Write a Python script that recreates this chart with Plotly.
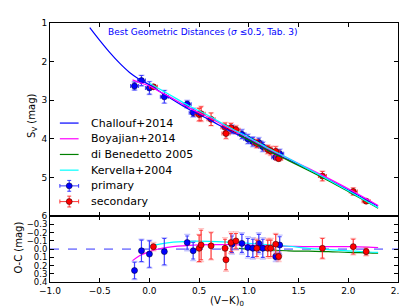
import plotly.graph_objects as go

# ---------------- data ----------------
prim_x = [-0.15, -0.08, 0.00, 0.15, 0.38, 0.44, 0.83, 0.93, 0.99, 1.04, 1.10, 1.14, 1.27, 1.31]
prim_s = [2.63, 2.49, 2.68, 2.91, 3.10, 3.32, 3.75, 3.88, 4.00, 4.07, 4.09, 4.20, 4.47, 4.38]
prim_oc = [0.26, 0.02, 0.06, 0.03, -0.08, 0.02, -0.06, -0.07, -0.02, -0.01, -0.07, -0.01, 0.09, -0.05]
prim_err = [0.10, 0.13, 0.16, 0.16, 0.08, 0.10, 0.10, 0.11, 0.11, 0.11, 0.11, 0.11, 0.04, 0.10]
prim_err_tot = [0.11, 0.14, 0.17, 0.17, 0.10, 0.12, 0.12, 0.13, 0.13, 0.13, 0.13, 0.13, 0.06, 0.12]
prim_xerr = [0.04] * len(prim_x)

sec_x = [0.04, 0.50, 0.52, 0.62, 0.76, 0.77, 0.82, 0.87, 1.08, 1.19, 1.22, 1.27, 1.30, 1.74, 2.05, 2.18]
sec_s = [2.65, 3.37, 3.35, 3.49, 3.70, 3.86, 3.71, 3.76, 4.12, 4.27, 4.31, 4.32, 4.51, 4.96, 5.36, 5.61]
sec_oc = [-0.03, -0.01, -0.05, -0.04, -0.01, 0.13, -0.08, -0.10, -0.01, -0.01, -0.01, -0.06, 0.09, -0.01, -0.03, 0.03]
sec_err = [0.03, 0.16, 0.18, 0.16, 0.11, 0.12, 0.11, 0.09, 0.10, 0.10, 0.10, 0.12, 0.04, 0.12, 0.09, 0.04]
sec_err_tot = [0.05, 0.17, 0.20, 0.17, 0.13, 0.14, 0.13, 0.11, 0.12, 0.12, 0.12, 0.13, 0.06, 0.13, 0.10, 0.05]
sec_xerr = [0.04] * len(sec_x)

# relations, main panel (S_V)
chal_x = [-0.6, -0.5, -0.4, -0.3, -0.2, -0.1, 0.0, 0.2, 0.4, 0.6, 0.8, 1.0, 1.2, 1.4, 1.6, 1.8, 2.0, 2.2, 2.3]
chal_s = [1.12, 1.45, 1.76, 2.04, 2.28, 2.46, 2.60, 2.93, 3.24, 3.50, 3.78, 4.03, 4.30, 4.54, 4.79, 5.05, 5.32, 5.60, 5.74]

boy_x = [-0.17, -0.1, 0.0, 0.1, 0.2, 0.4, 0.6, 0.8, 1.0, 1.2, 1.4, 1.6, 1.8, 2.0, 2.2, 2.3]
boy_s = [2.47, 2.54, 2.63, 2.77, 2.905, 3.195, 3.445, 3.725, 3.98, 4.26, 4.505, 4.76, 5.02, 5.29, 5.575, 5.72]
boy_oc = [0.14, 0.08, 0.03, -0.005, -0.025, -0.045, -0.055, -0.055, -0.05, -0.04, -0.035, -0.03, -0.03, -0.03, -0.025, -0.02]

ker_x = [0.0, 0.2, 0.4, 0.6, 0.8, 1.0, 1.2, 1.4, 1.6, 1.8, 2.0, 2.2, 2.3]
ker_s = [2.56, 2.85, 3.145, 3.405, 3.695, 3.96, 4.245, 4.505, 4.78, 5.055, 5.34, 5.635, 5.78]
ker_oc = [-0.04, -0.08, -0.095, -0.095, -0.085, -0.07, -0.055, -0.035, -0.01, 0.005, 0.02, 0.035, 0.04]

dib_x = [0.9, 1.0, 1.2, 1.4, 1.6, 1.8, 2.0, 2.2, 2.3]
dib_s = [3.89, 4.03, 4.31, 4.56, 4.815, 5.08, 5.36, 5.645, 5.79]
dib_oc = [-0.01, 0.0, 0.01, 0.02, 0.025, 0.03, 0.04, 0.045, 0.05]

zero_x = [-1.0, 2.5]
zero_y = [0.0, 0.0]

x_ticks = [-1.0, -0.5, 0.0, 0.5, 1.0, 1.5, 2.0, 2.5]
s_ticks = [1, 2, 3, 4, 5, 6]
oc_ticks = [-0.3, -0.2, -0.1, 0.0, 0.1, 0.2, 0.3, 0.4]
oc_labels = ["\u22120.3", "\u22120.2", "\u22120.1", "0.0", "0.1", "0.2", "0.3", "0.4"]

BLUE = "#0000ff"
RED = "#ff0000"
MAG = "#ff00ff"
GRN = "#008000"
CYN = "#00ffff"
BLUE_BAR = "rgba(40,40,255,0.85)"
RED_BAR = "rgba(255,40,40,0.85)"
BLUE_LIGHT = "rgba(90,90,255,0.35)"
RED_LIGHT = "rgba(255,90,90,0.35)"

fig = go.Figure()


def light(x, y, ey, bar, ax):
    return go.Scatter(x=x, y=y, mode="markers", marker=dict(size=1, opacity=0),
                      error_y=dict(type="data", array=ey, visible=True, color=bar, thickness=1.4, width=3),
                      showlegend=False, hoverinfo="skip",
                      xaxis="x" if ax == 1 else "x2", yaxis="y" if ax == 1 else "y2")


def pts(x, y, ey, ex, color, bar, ax):
    kw = dict(x=x, y=y, mode="markers",
              marker=dict(color=color, size=6, line=dict(color="#000040" if color == BLUE else "#400000", width=0.6)),
              error_y=dict(type="data", array=ey, visible=True, color=bar, thickness=1.1, width=2),
              showlegend=False, xaxis="x" if ax == 1 else "x2", yaxis="y" if ax == 1 else "y2")
    if ex is not None:
        kw["error_x"] = dict(type="data", array=ex, visible=True, color=bar, thickness=1.1, width=2)
    return go.Scatter(**kw)


def line(x, y, color, ax, w=1.2):
    return go.Scatter(x=x, y=y, mode="lines", line=dict(color=color, width=w, shape="spline"),
                      showlegend=False, xaxis="x" if ax == 1 else "x2", yaxis="y" if ax == 1 else "y2",
                      hoverinfo="skip")


# main panel points
fig.add_trace(light(prim_x, prim_s, prim_err_tot, BLUE_LIGHT, 1))
fig.add_trace(light(sec_x, sec_s, sec_err_tot, RED_LIGHT, 1))
fig.add_trace(pts(prim_x, prim_s, prim_err, prim_xerr, BLUE, BLUE_BAR, 1))
fig.add_trace(pts(sec_x, sec_s, sec_err, sec_xerr, RED, RED_BAR, 1))

fig.add_trace(line(chal_x, chal_s, BLUE, 1))
fig.add_trace(line(boy_x, boy_s, MAG, 1))
fig.add_trace(line(dib_x, dib_s, GRN, 1))
fig.add_trace(line(ker_x, ker_s, CYN, 1))

# residual panel
fig.add_trace(go.Scatter(x=zero_x, y=zero_y, mode="lines", line=dict(color="rgba(60,60,255,0.6)", width=1.6, dash="dash"),
                         showlegend=False, xaxis="x2", yaxis="y2", hoverinfo="skip"))
fig.add_trace(line(boy_x, boy_oc, MAG, 2))
fig.add_trace(line(dib_x, dib_oc, GRN, 2))
fig.add_trace(line(ker_x, ker_oc, CYN, 2))
fig.add_trace(light(prim_x, prim_oc, prim_err_tot, BLUE_LIGHT, 2))
fig.add_trace(light(sec_x, sec_oc, sec_err_tot, RED_LIGHT, 2))
fig.add_trace(pts(prim_x, prim_oc, prim_err, None, BLUE, BLUE_BAR, 2))
fig.add_trace(pts(sec_x, sec_oc, sec_err, None, RED, RED_BAR, 2))

# ---------------- layout ----------------
L, R, T, B = 42, 12, 10, 33
W, H = 407, 307
PW, PH = W - L - R, H - T - B
split = (274 - 207) / PH


def px(xp):
    return (xp - L) / PW


def py(yp):
    return (H - B - yp) / PH


axis_common = dict(showline=True, linecolor="black", linewidth=1, mirror="ticks", ticks="inside",
                   ticklen=4, tickcolor="black", showgrid=False, zeroline=False)

fig.update_layout(
    width=W, height=H, margin=dict(l=L, r=R, t=T, b=B),
    paper_bgcolor="white", plot_bgcolor="white", showlegend=False,
    font=dict(family="DejaVu Sans", color="black"),
    xaxis=dict(domain=[0, 1], anchor="y", range=[-1.0, 2.5], tickvals=x_ticks, showticklabels=False,
               tickfont=dict(size=9), **axis_common),
    yaxis=dict(domain=[split, 1], anchor="x", range=[6, 1], tickvals=s_ticks,
               tickfont=dict(size=9), **axis_common),
    xaxis2=dict(domain=[0, 1], anchor="y2", range=[-1.0, 2.5], tickvals=x_ticks, tickformat=".1f",
                tickfont=dict(size=9), **axis_common),
    yaxis2=dict(domain=[0, split], anchor="x2", range=[0.4, -0.4], tickvals=oc_ticks, ticktext=oc_labels,
                tickfont=dict(size=8.5), **axis_common),
)

ann = []
shapes = []
# axis titles
ann.append(dict(text="S<sub>V</sub> (mag)", xref="paper", yref="paper", x=px(23.5), y=py(105), textangle=-90,
                showarrow=False, font=dict(size=10), xanchor="center", yanchor="middle"))
ann.append(dict(text="O-C (mag)", xref="paper", yref="paper", x=px(10.5), y=py(239), textangle=-90,
                showarrow=False, font=dict(size=10), xanchor="center", yanchor="middle"))
ann.append(dict(text="(V\u2212K)<sub>0</sub>", xref="paper", yref="paper", x=px(222), y=py(294),
                showarrow=False, font=dict(size=10), xanchor="center", yanchor="middle"))
# title text
ann.append(dict(text="Best Geometric Distances (<i>\u03c3</i> \u22640.5, Tab. 3)", xref="paper", yref="paper",
                x=px(197), y=py(19.5), showarrow=False, font=dict(size=9, color=BLUE),
                xanchor="center", yanchor="middle"))

# legend (drawn manually to match spacing)
leg_names = ["Challouf+2014", "Boyajian+2014", "di Benedetto 2005", "Kervella+2004", "primary", "secondary"]
leg_cols = [BLUE, MAG, GRN, CYN, BLUE, RED]
leg_y0, leg_dy = 112, 16
for i, (nm, c) in enumerate(zip(leg_names, leg_cols)):
    yy = leg_y0 + i * leg_dy
    ann.append(dict(text=nm, xref="paper", yref="paper", x=px(82), y=py(yy), showarrow=False,
                    font=dict(size=11), xanchor="left", yanchor="middle"))
    if i < 4:
        shapes.append(dict(type="line", xref="paper", yref="paper", x0=px(52), x1=px(71), y0=py(yy), y1=py(yy),
                           line=dict(color=c, width=1.2)))
    else:
        bc = BLUE_BAR if c == BLUE else RED_BAR
        ec = "#000040" if c == BLUE else "#400000"
        shapes.append(dict(type="line", xref="paper", yref="paper", x0=px(52), x1=px(71), y0=py(yy), y1=py(yy),
                           line=dict(color=bc, width=1.1)))
        shapes.append(dict(type="line", xref="paper", yref="paper", x0=px(61.5), x1=px(61.5), y0=py(yy - 5.5),
                           y1=py(yy + 5.5), line=dict(color=bc, width=1.1)))
        for d in (-5.5, 5.5):
            shapes.append(dict(type="line", xref="paper", yref="paper", x0=px(59.5), x1=px(63.5), y0=py(yy + d),
                               y1=py(yy + d), line=dict(color=bc, width=1.1)))
        for d in (-9.5, 9.5):
            shapes.append(dict(type="line", xref="paper", yref="paper", x0=px(61.5 + d), x1=px(61.5 + d),
                               y0=py(yy - 2), y1=py(yy + 2), line=dict(color=bc, width=1.1)))
        shapes.append(dict(type="circle", xref="paper", yref="paper", x0=px(58.5), x1=px(64.5), y0=py(yy - 3),
                           y1=py(yy + 3), fillcolor=c, line=dict(color=ec, width=0.6)))

fig.update_layout(annotations=ann, shapes=shapes)

fig.write_html("out.html")
